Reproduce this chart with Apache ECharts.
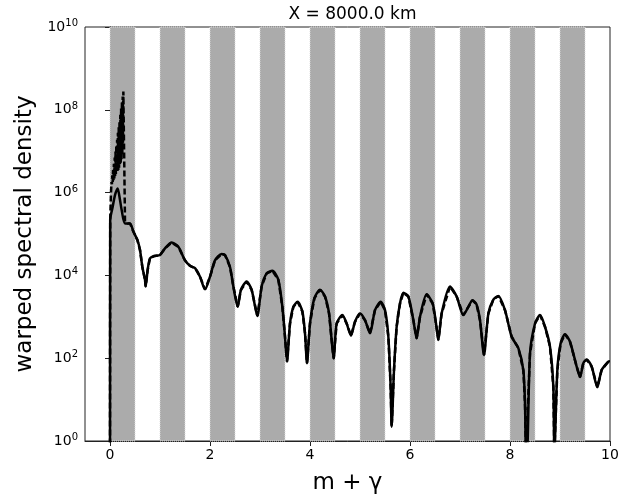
<!DOCTYPE html>
<html>
<head>
<meta charset="utf-8">
<script src="https://cdn.jsdelivr.net/npm/echarts@6/dist/echarts.min.js"></script>
<style>html,body{margin:0;padding:0;background:#fff}#c{width:639px;height:502px}</style>
</head>
<body>
<div id="c"></div>
<script>
// ---- data ----
var titleText = 'X = 8000.0 km';
var xName = 'm + \u03b3';
var yName = 'warped spectral density';
var xTicks = [0, 2, 4, 6, 8, 10];
var yTicks = [1, 1e2, 1e4, 1e6, 1e8, 1e10];
var bandStarts = [0, 1, 2, 3, 4, 5, 6, 7, 8, 9];
var bandEnds = [0.5, 1.5, 2.5, 3.5, 4.5, 5.5, 6.5, 7.5, 8.5, 9.5];

// solid curve: m+gamma and density
var solidX = [0.0, 0.004, 0.05, 0.1, 0.153, 0.2, 0.233, 0.3, 0.4, 0.467, 0.547, 0.6, 0.647, 0.7, 0.713, 0.753, 0.8, 0.887, 1.0, 1.1, 1.233, 1.367, 1.5, 1.6, 1.7, 1.8, 1.9, 2.0, 2.1, 2.233, 2.3, 2.4, 2.467, 2.553, 2.62, 2.733, 2.833, 2.947, 3.033, 3.133, 3.247, 3.367, 3.447, 3.5, 3.54, 3.6, 3.667, 3.753, 3.847, 3.9, 3.94, 4.0, 4.087, 4.2, 4.3, 4.38, 4.433, 4.473, 4.533, 4.647, 4.733, 4.82, 4.9, 5.0, 5.1, 5.2, 5.3, 5.413, 5.5, 5.567, 5.613, 5.633, 5.68, 5.733, 5.8, 5.867, 5.967, 6.067, 6.133, 6.2, 6.333, 6.453, 6.52, 6.567, 6.633, 6.8, 6.933, 7.067, 7.167, 7.25, 7.33, 7.4, 7.48, 7.567, 7.667, 7.767, 7.9, 8.033, 8.167, 8.267, 8.3, 8.32, 8.34, 8.4, 8.5, 8.6, 8.7, 8.8, 8.867, 8.887, 8.947, 9.013, 9.1, 9.2, 9.333, 9.4, 9.467, 9.533, 9.633, 9.747, 9.833, 9.967, 10.0];
var solidY = [0.5, 2.2e5, 4.3e5, 8.7e5, 1.26e6, 6.6e5, 3.8e5, 1.8e5, 1.8e5, 1.15e5, 7.2e4, 4.1e4, 1.6e4, 7.8e3, 5.4e3, 1.35e4, 2.6e4, 2.95e4, 3.1e4, 4.5e4, 6.2e4, 4.9e4, 2.3e4, 1.7e4, 1.5e4, 9.3e3, 4.6e3, 9.3e3, 2.3e4, 3.3e4, 3.1e4, 1.6e4, 5.4e3, 1.74e3, 4.5e3, 7.1e3, 4.5e3, 1.05e3, 5.4e3, 1.12e4, 1.29e4, 7.8e3, 1.74e3, 330, 83, 690, 1.74e3, 2.3e3, 1.35e3, 400, 76, 690, 2.8e3, 4.5e3, 3.1e3, 1.23e3, 275, 98, 690, 1.1e3, 690, 350, 760, 1.2e3, 830, 400, 1.45e3, 2.3e3, 1.45e3, 330, 20, 2.2, 52, 575, 2.1e3, 3.8e3, 3.1e3, 830, 300, 1e3, 3.5e3, 2.1e3, 690, 275, 1.2e3, 5.4e3, 3.1e3, 1.1e3, 1.74e3, 2.5e3, 2e3, 830, 120, 1.2e3, 2.6e3, 3.2e3, 1.45e3, 330, 175, 51, 8.1, 0.5, 0.5, 130, 690, 1.1e3, 575, 190, 20, 0.5, 52, 230, 380, 250, 63, 35, 76, 93, 63, 20, 52, 83, 85];

// dashed curve near the first peak (elsewhere it follows the solid curve)
var dashX = [0.0, 0.004, 0.02, 0.03, 0.038, 0.046, 0.054, 0.062, 0.07, 0.078, 0.086, 0.094, 0.102, 0.11, 0.118, 0.126, 0.134, 0.142, 0.15, 0.158, 0.166, 0.174, 0.182, 0.19, 0.198, 0.206, 0.214, 0.222, 0.23, 0.238, 0.246, 0.254, 0.26, 0.267, 0.3, 0.35, 0.4];
var dashY = [0.5, 2.2e5, 1.0e6, 1.8e6, 1.6e6, 2.6e6, 1.8e6, 3.5e6, 2e6, 5e6, 2.2e6, 7e6, 2.5e6, 9.8e6, 2.8e6, 1.4e7, 3.2e6, 1.9e7, 3.2e6, 2.8e7, 3.5e6, 3.8e7, 4e6, 5.4e7, 4.5e6, 7.6e7, 5e6, 1.07e8, 6.3e6, 1.5e8, 8e6, 2.1e8, 1.6e7, 2.75e8, 2e5, 1.8e5, 1.8e5];

// ---- build ----
function pairs(xs, ys) { var o = []; for (var i = 0; i < xs.length; i++) o.push([xs[i], ys[i]]); return o; }
var solidData = pairs(solidX, solidY);
var dashData = pairs(dashX, dashY);
var lastDashX = dashX[dashX.length - 1];
for (var i = 0; i < solidX.length; i++) if (solidX[i] > lastDashX) dashData.push([solidX[i], solidY[i]]);
var bands = [];
for (var j = 0; j < bandStarts.length; j++) bands.push([{ xAxis: bandStarts[j] }, { xAxis: bandEnds[j] }]);

var FONT = 'DejaVu Sans';
var chart = echarts.init(document.getElementById('c'), null, { renderer: 'canvas' });
chart.setOption({
  animation: false,
  backgroundColor: '#fff',
  title: {
    text: titleText, left: 347.5, top: 1, textAlign: 'center',
    textStyle: { fontFamily: FONT, fontSize: 17, fontWeight: 'normal', color: '#000' }
  },
  grid: { left: 85, right: 29, top: 27, bottom: 61, show: true, borderColor: '#222', borderWidth: 1, backgroundColor: 'transparent' },
  xAxis: {
    type: 'value', min: -0.5, max: 10,
    name: xName, nameLocation: 'middle', nameGap: 31,
    nameTextStyle: { fontFamily: FONT, fontSize: 23, color: '#000' },
    axisLine: { show: true, onZero: false, lineStyle: { color: '#222', width: 1 } },
    axisTick: { show: true, length: 5, lineStyle: { color: '#222' }, customValues: xTicks },
    axisLabel: { fontFamily: FONT, fontSize: 14, color: '#000', margin: 7, customValues: xTicks },
    splitLine: { show: false }
  },
  yAxis: {
    type: 'log', logBase: 10, min: 1, max: 1e10,
    name: yName, nameLocation: 'middle', nameGap: 47,
    nameTextStyle: { fontFamily: FONT, fontSize: 23, color: '#000' },
    axisLine: { show: true, lineStyle: { color: '#222', width: 1 } },
    axisTick: { show: true, length: 5, lineStyle: { color: '#222' }, customValues: yTicks },
    axisLabel: {
      customValues: yTicks, margin: 7,
      formatter: function (v) { return '{b|10}{s|' + Math.round(Math.log(v) / Math.LN10) + '}'; },
      rich: {
        b: { fontFamily: FONT, fontSize: 14, color: '#000' },
        s: { fontFamily: FONT, fontSize: 10, color: '#000', padding: [0, 0, 7, 0] }
      }
    },
    splitLine: { show: false }
  },
  series: [
    {
      type: 'line', data: [], z: 1, silent: true,
      markArea: {
        silent: true,
        itemStyle: { color: '#ababab', borderColor: '#dcdcdc', borderWidth: 1, borderType: 'dotted' },
        data: bands
      }
    },
    {
      type: 'line', data: solidData, z: 3, symbol: 'none', smooth: 0.25, clip: true,
      lineStyle: { color: '#000', width: 2.5 }
    },
    {
      type: 'line', data: dashData, z: 4, symbol: 'none', smooth: false, clip: true,
      lineStyle: { color: '#000', width: 2.5, type: [6, 3] }
    }
  ]
});
</script>
</body>
</html>
